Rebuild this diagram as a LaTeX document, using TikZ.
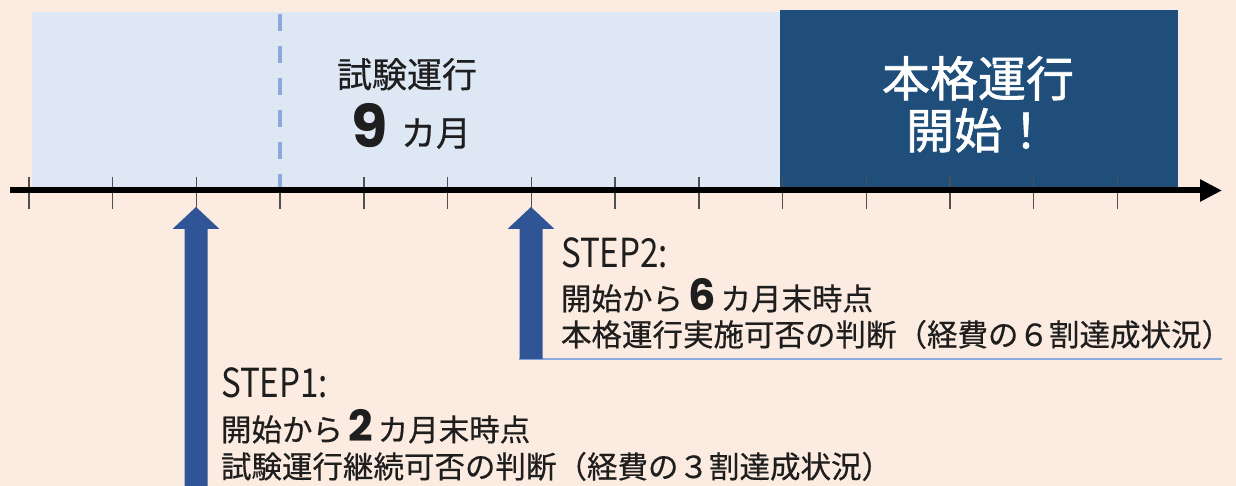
\documentclass[tikz,border=0pt]{standalone}
\usepackage{fontspec}
\setmainfont{Noto Sans CJK JP}
\newfontfamily\jp{Noto Sans CJK JP}[FakeBold=0.5]
\newfontfamily\jpw{Noto Sans CJK JP}[FakeBold=1.3]
\newfontfamily\steplat{Noto Sans CJK JP}[FakeStretch=0.83]
\newfontfamily\num{Poppins}
\usetikzlibrary{arrows.meta}
\definecolor{peach}{HTML}{FCEBE0}
\definecolor{lightbl}{HTML}{DEE8F5}
\definecolor{darkbl}{HTML}{204E7A}
\definecolor{arrowbl}{HTML}{2F5597}
\definecolor{dashbl}{HTML}{8EA9DB}
\definecolor{ink}{HTML}{1E1E1E}
\definecolor{tickc}{HTML}{505050}
\tikzset{
  txt/.style={inner sep=0pt, outer sep=0pt, text=ink, anchor=base west, font=\jp\fontsize{30.5}{36}\selectfont},
  steplabel/.style={txt, font=\steplat\fontsize{40}{44}\selectfont},
  tickline/.style={draw=tickc, line width=1.4pt},
  uparrow/.style={fill=arrowbl, draw=none},
}
\newcommand{\bigdig}[1]{{\num\bfseries\fontsize{43}{43}\selectfont #1}}
\begin{document}
\begin{tikzpicture}[x=1pt,y=-1pt]
\fill[peach] (0,0) rectangle (1236,486);
\useasboundingbox (0,0) rectangle (1236,486);
% periods
\fill[lightbl] (32,12) rectangle (780,188);
\fill[darkbl] (780,10) rectangle (1178,188);
\draw[dashbl, line width=4.5pt, dash pattern=on 17pt off 15pt] (280,14) -- (280,187);
% labels in boxes
\node[txt, anchor=base, font=\jp\fontsize{35}{40}\selectfont] (trial) at (407,87.5) {試験運行};
\node[txt, anchor=base, font=\num\bfseries\fontsize{59}{59}\selectfont] (nine) at (370,148) {9};
\node[txt, anchor=base west, font=\jp\fontsize{35}{40}\selectfont] (months) at (401,146) {カ月};
\node[txt, anchor=base, text=white, font=\jpw\fontsize{48}{52}\selectfont] (full1) at (978,96.5) {本格運行};
\node[txt, anchor=base, text=white, font=\jpw\fontsize{48}{52}\selectfont] (full2) at (978,148.5) {開始！};
% axis
\coordinate (axS) at (10,190.5);
\coordinate (axE) at (1222,190.5);
\foreach \i in {0,1,2,4,5,6,7,8,9,10,11,12,13}{
  \draw[tickline] ({29+83.73*\i},177) -- ({29+83.73*\i},209);
}
\draw[tickline] (280,190) -- (280,209);
\draw[line width=6pt, -{Triangle[length=22pt,width=21pt]}] (axS) -- (axE);
% STEP1 arrow
\coordinate (s1tip) at (196,207);
\fill[uparrow] (s1tip) -- ++(23.5,22) -- ++(-12,0) -- (207.5,486) -- (184.5,486) -- (184.5,229) -- ++(-12,0) -- cycle;
% STEP2 arrow
\coordinate (s2tip) at (531,207);
\draw[dashbl, line width=1.6pt] (519,359) -- (1222,359);
\fill[uparrow] (s2tip) -- ++(23.5,22) -- ++(-12,0) -- (542.5,359) -- (519.5,359) -- (519.5,229) -- ++(-12,0) -- cycle;
% STEP2 text
\node[steplabel] (s2a) at (561,267) {STEP2:};
\node[txt] (s2b) at (561,310) {開始から\,\bigdig{6}\,カ月末時点};
\node[txt] (s2c) at (561,346) {本格運行実施可否の判断（経費の６割達成状況）};
% STEP1 text
\node[steplabel] (s1a) at (221,397) {STEP1:};
\node[txt] (s1b) at (221,441) {開始から\,\bigdig{2}\,カ月末時点};
\node[txt] (s1c) at (221,478) {試験運行継続可否の判断（経費の３割達成状況）};
\end{tikzpicture}
\end{document}
